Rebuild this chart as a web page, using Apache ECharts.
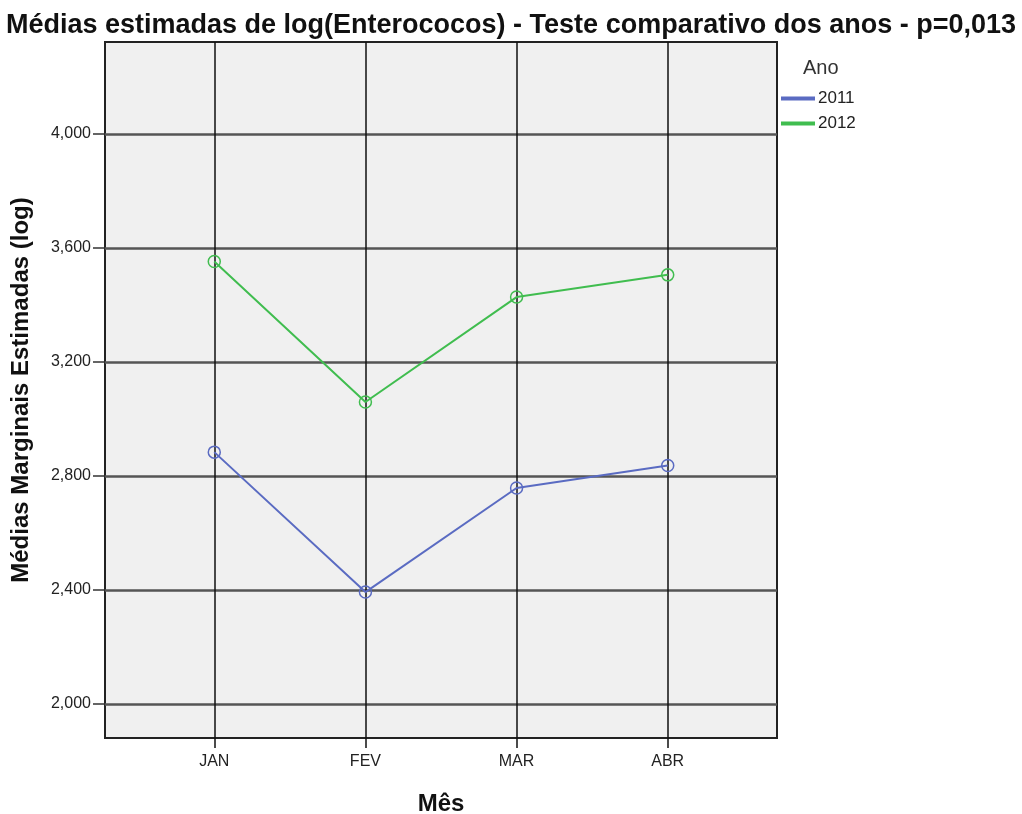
<!DOCTYPE html>
<html>
  <head>
    <meta charset="utf-8" />
    <title>Médias estimadas</title>
    <script src="https://cdn.jsdelivr.net/npm/echarts@6/dist/echarts.min.js"></script>
    <style>
      body { margin: 0; background: #fff; }
      #main { width: 1022px; height: 814px; }
    </style>
  </head>
  <body>
    <div id="main"></div>
    <script type="text/javascript">
// dados
var meses = ['JAN', 'FEV', 'MAR', 'ABR'];
var anos = ['2011', '2012'];
var media2011 = [2.884, 2.393, 2.758, 2.837];
var media2012 = [3.553, 3.060, 3.428, 3.506];
var yTicks = [2.0, 2.4, 2.8, 3.2, 3.6, 4.0];
var cores = ['#5a6bc2', '#40bd4f'];

var myChart = echarts.init(document.getElementById('main'));
var mesIdx = meses.map(function (m, i) { return i; });

function pares(vals) {
  return vals.map(function (v, i) { return [i, v]; });
}
function fmt(v) {
  return v.toFixed(3).replace('.', ',');
}

var series = [media2011, media2012].map(function (vals, k) {
  return {
    name: anos[k],
    type: 'line',
    data: pares(vals),
    symbol: 'circle',
    symbolSize: 12,
    lineStyle: { color: cores[k], width: 2 },
    itemStyle: { color: 'transparent', borderColor: cores[k], borderWidth: 1.5 },
    emphasis: { disabled: true },
    z: 5
  };
});

var option = {
  animation: false,
  textStyle: { fontFamily: 'Liberation Sans, Arial, sans-serif' },
  title: [
    {
      text: 'Médias estimadas de log(Enterococos) - Teste comparativo dos anos - p=0,013',
      left: 'center',
      top: 7,
      textStyle: {
        fontWeight: 'bold',
        fontSize: 27,
        color: '#111'
      }
    },
    {
      text: 'Ano',
      left: 798,
      top: 53,
      textStyle: { fontSize: 20, fontWeight: 'normal', color: '#333' }
    }
  ],
  legend: {
    orient: 'vertical',
    left: 781,
    top: 90,
    padding: 0,
    icon: 'rect',
    itemWidth: 32,
    itemHeight: 2,
    itemGap: 8,
    textStyle: { fontSize: 17, color: '#222', padding: [0, 0, 0, -1] },
    data: anos.map(function (a, k) {
      return { name: a, itemStyle: { color: cores[k] } };
    })
  },
  grid: {
    show: true,
    left: 105,
    top: 42,
    width: 672,
    height: 696,
    outerBoundsMode: 'none',
    backgroundColor: '#f0f0f0',
    borderColor: '#222',
    borderWidth: 2
  },
  xAxis: {
    type: 'value',
    min: -0.723,
    max: 3.723,
    name: 'Mês',
    nameLocation: 'middle',
    nameGap: 54,
    nameTextStyle: { fontSize: 24, fontWeight: 'bold', color: '#111' },
    axisLine: { show: false, onZero: false },
    axisTick: {
      show: true,
      customValues: mesIdx,
      length: 10,
      lineStyle: { color: '#111', width: 1.5 }
    },
    axisLabel: {
      customValues: mesIdx,
      margin: 16,
      fontSize: 16,
      color: '#222',
      formatter: function (v) { return meses[Math.round(v)]; }
    },
    splitLine: { show: true, lineStyle: { color: '#111', width: 1.5 } }
  },
  yAxis: {
    type: 'value',
    min: 1.881,
    max: 4.323,
    name: 'Médias Marginais Estimadas (log)',
    nameLocation: 'middle',
    nameGap: 72,
    nameTextStyle: { fontSize: 24, fontWeight: 'bold', color: '#111' },
    axisLine: { show: false, onZero: false },
    axisTick: {
      show: true,
      customValues: yTicks,
      length: 12,
      lineStyle: { color: '#333', width: 1.5 }
    },
    axisLabel: {
      customValues: yTicks,
      margin: 14,
      fontSize: 16,
      color: '#222',
      formatter: fmt
    },
    splitLine: { show: true, lineStyle: { color: '#555', width: 2.5 } }
  },
  series: series
};

myChart.setOption(option);
    </script>
  </body>
</html>
